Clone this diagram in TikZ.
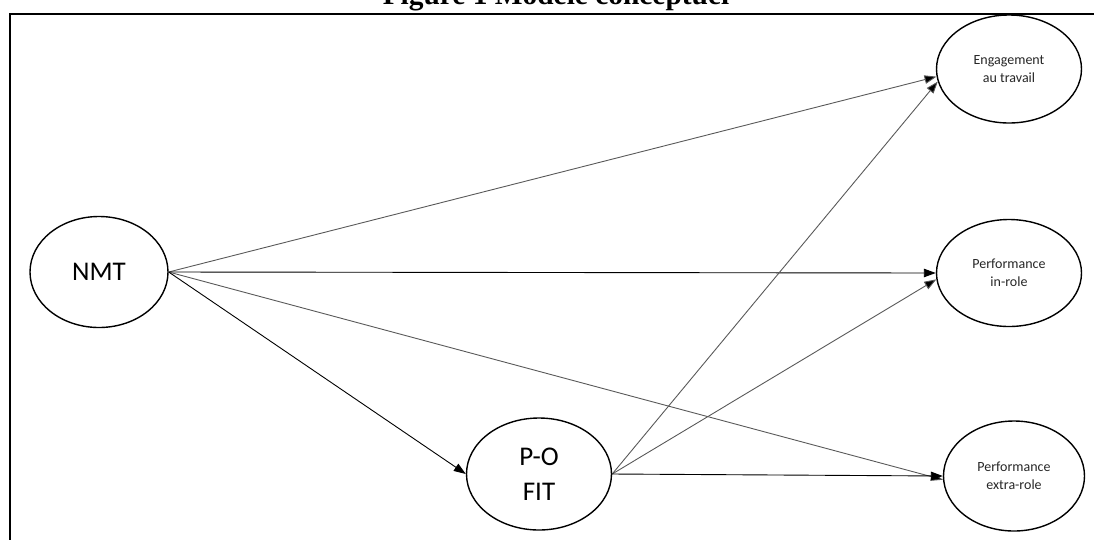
\documentclass[tikz,border=0pt]{standalone}
\usepackage{fontspec}
\setmainfont{Carlito}
\newfontfamily\titlefont{Liberation Serif}
\usetikzlibrary{shapes.geometric,arrows.meta}
\begin{document}
\begin{tikzpicture}[x=1pt,y=-1pt,
  construct/.style={ellipse,draw=black,line width=1.4pt,inner sep=0pt,align=center},
  bigtext/.style={font=\fontsize{27}{31}\selectfont},
  smalltext/.style={font=\fontsize{14}{18}\selectfont,text=black!85},
  link/.style={-{Triangle[length=12pt,width=8.5pt]},line width=0.9pt},
  greylink/.style={link,draw=black!65,-{Triangle[length=12pt,width=8.5pt,fill=black]}}]
\useasboundingbox (0,0) rectangle (1094,539);
\clip (0,0) rectangle (1094,539);
% caption, partly above the page edge
\node[anchor=base,font=\titlefont\bfseries\fontsize{29.4}{33}\selectfont,inner sep=0pt] (title) at (556,4) {Figure 1 Modèle conceptuel};
% frame
\draw[line width=2pt] (1100,14) -- (10,14) -- (10,545);
% constructs
\node[construct,bigtext,minimum width=138pt,minimum height=111pt] (nmt) at (99,272) {NMT};
\node[construct,bigtext,minimum width=145pt,minimum height=112pt] (po) at (539,474) {P-O\\[4pt]FIT};
\node[construct,smalltext,minimum width=145pt,minimum height=108pt] (eng) at (1009,69) {Engagement\\au travail};
\node[construct,smalltext,minimum width=145pt,minimum height=107pt] (inr) at (1009,273) {Performance\\in-role};
\node[construct,smalltext,minimum width=141pt,minimum height=110pt] (exr) at (1014,476) {Performance\\extra-role};
% paths from NMT
\draw[greylink] (nmt.east) -- (eng.186);
\draw[link] (nmt.east) -- (inr.west);
\draw[greylink] (nmt.east) -- (exr.183);
\draw[link] (nmt.east) -- (po.west);
% paths from P-O FIT
\draw[greylink] (po.east) -- (eng.190);
\draw[greylink] (po.east) -- (inr.185);
\draw[link] (po.east) -- (exr.west);
\end{tikzpicture}
\end{document}
